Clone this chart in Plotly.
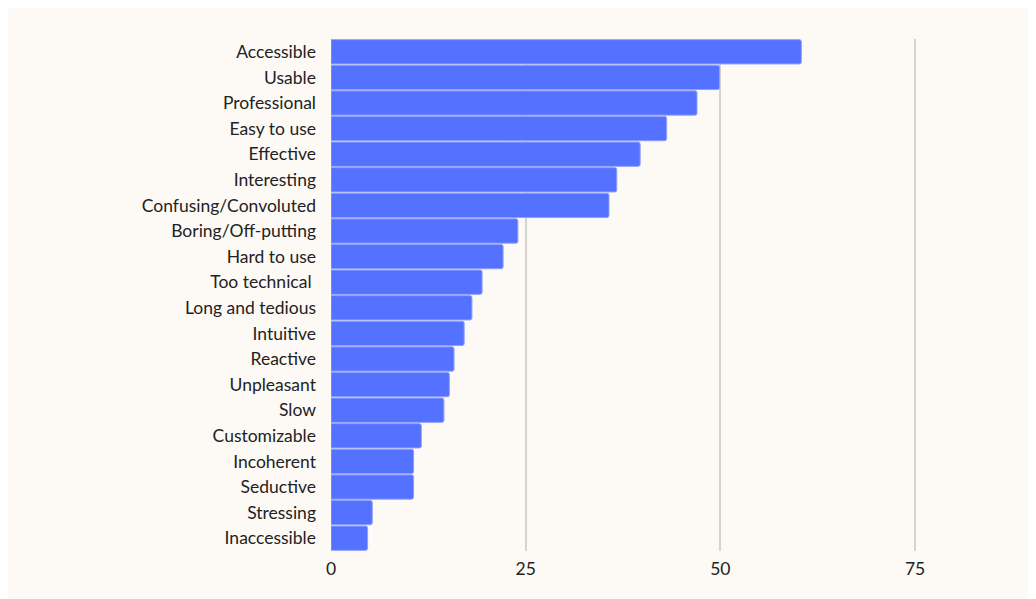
import plotly.graph_objects as go

categories = ["Accessible", "Usable", "Professional", "Easy to use", "Effective",
              "Interesting", "Confusing/Convoluted", "Boring/Off-putting", "Hard to use",
              "Too technical ", "Long and tedious", "Intuitive", "Reactive", "Unpleasant",
              "Slow", "Customizable", "Incoherent", "Seductive", "Stressing", "Inaccessible"]
values = [60.4, 49.9, 47.0, 43.1, 39.7, 36.7, 35.7, 24.0, 22.1, 19.4,
          18.1, 17.1, 15.8, 15.2, 14.5, 11.6, 10.6, 10.6, 5.3, 4.7]
tick_vals = [0, 25, 50, 75]
tick_text = ["0", "25", "50", "75"]

W, H = 1026, 591
ml, mr, mt, mb = 323, 80, 31, 48
xmax = 80

fig = go.Figure(go.Bar(
    x=values, y=categories, orientation="h",
    marker=dict(color="#5472ff", line=dict(color="#8fa0ff", width=1), cornerradius=2),
    width=0.95,
))

fig.update_layout(
    width=W, height=H,
    margin=dict(l=ml, r=mr, t=mt, b=mb),
    paper_bgcolor="#fdfaf6",
    plot_bgcolor="rgba(0,0,0,0)",
    font=dict(family="Lato, sans-serif", size=17.5, color="#222222"),
    showlegend=False,
    xaxis=dict(range=[0, xmax], tickvals=tick_vals, ticktext=tick_text,
               showgrid=True, gridcolor="#d6d3cf", gridwidth=1.5, zeroline=False,
               showline=False, ticks="", ticklabelstandoff=5),
    yaxis=dict(autorange=False, range=[19.5, -0.5], showgrid=False, zeroline=False,
               showline=False, ticks="", ticklabelstandoff=14),
    bargap=0.05,
)

fig.write_html("out.html")
